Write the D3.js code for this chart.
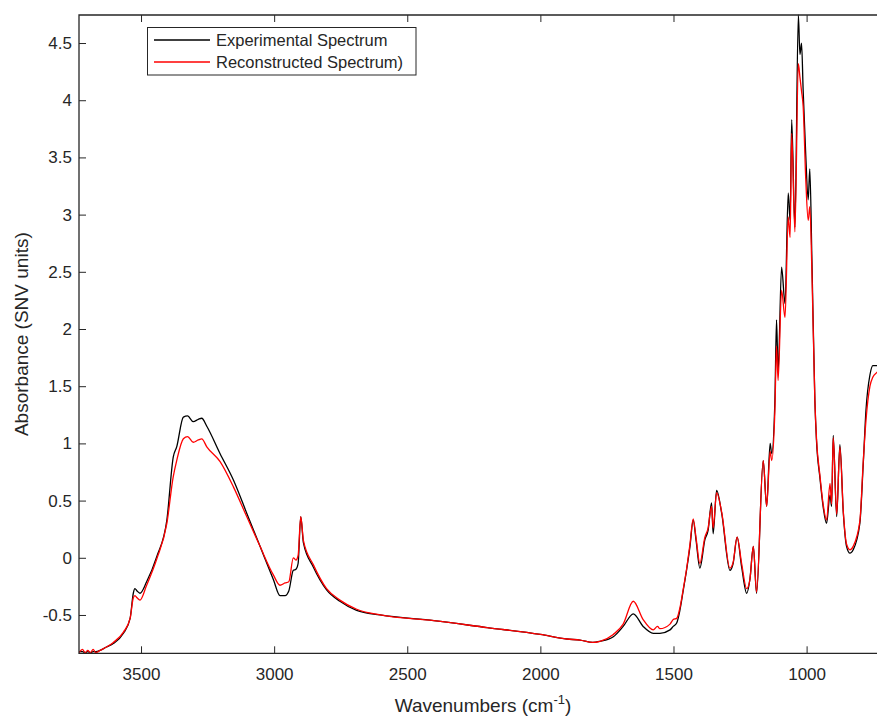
<!DOCTYPE html>
<html>
<head>
<meta charset="utf-8">
<script src="https://d3js.org/d3.v7.min.js"></script>
<style>
    body { margin: 0; background: #fff; }
    text { font-family: "Liberation Sans", Arial, Helvetica, sans-serif; fill: #262626; }
</style>
</head>
<body>
<svg id="main-svg" width="877" height="718"></svg>
<script>
// wavenumbers (cm-1)
var wavenumbers = [3733, 3720, 3710, 3700, 3690, 3680, 3670, 3654, 3630, 3604, 3566, 3541, 3529, 3523, 3515, 3504,
    3479, 3441, 3403, 3379, 3366, 3341, 3325, 3304, 3285, 3272, 3253, 3203, 3153, 3103, 3053, 3003,
    2978, 2959, 2945, 2928, 2918, 2910, 2900, 2890, 2853, 2803, 2753, 2690, 2602, 2400, 2200, 2000,
    1900, 1851, 1803, 1776, 1726, 1689, 1651, 1614, 1576, 1560, 1551, 1513, 1501, 1488, 1476, 1463,
    1451, 1438, 1426, 1415, 1401, 1382, 1370, 1357, 1351, 1338, 1319, 1288, 1276, 1261, 1244, 1225,
    1213, 1200, 1188, 1163, 1150, 1137, 1131, 1119, 1113, 1107, 1094, 1081, 1069, 1062, 1056, 1044,
    1031, 1025, 1019, 1013, 1003, 994, 988, 980, 969, 963, 950, 938, 925, 912, 906, 900,
    887, 875, 862, 850, 837, 825, 800, 787, 777, 762, 751, 736, 715, 700];

var experimental = [-0.82, -0.82, -0.83, -0.82, -0.83, -0.82, -0.82, -0.81, -0.78, -0.75, -0.66, -0.53, -0.31, -0.27, -0.29, -0.31,
    -0.21, 0.01, 0.33, 0.88, 0.97, 1.23, 1.24, 1.19, 1.21, 1.22, 1.15, 0.91, 0.68, 0.39, 0.10, -0.19,
    -0.33, -0.33, -0.29, -0.11, -0.10, -0.05, 0.36, 0.13, -0.08, -0.28, -0.38, -0.46, -0.50, -0.55, -0.61, -0.67,
    -0.71, -0.72, -0.74, -0.73, -0.69, -0.60, -0.49, -0.60, -0.66, -0.66, -0.66, -0.63, -0.60, -0.57, -0.46, -0.28,
    -0.11, 0.10, 0.33, 0.15, -0.09, 0.16, 0.24, 0.48, 0.21, 0.59, 0.39, -0.11, -0.05, 0.18, -0.08, -0.31,
    -0.19, 0.10, -0.31, 0.85, 0.45, 1.00, 0.91, 1.38, 2.08, 1.62, 2.54, 2.22, 3.19, 2.95, 3.83, 2.89,
    4.745, 4.40, 4.50, 4.09, 3.51, 3.13, 3.40, 2.60, 1.38, 1.03, 0.70, 0.45, 0.30, 0.55, 0.45, 1.07,
    0.36, 0.99, 0.39, 0.10, 0.04, 0.07, 0.30, 0.83, 1.29, 1.60, 1.68, 1.68, 1.70, 1.70];

var reconstructed = [-0.83, -0.80, -0.83, -0.81, -0.83, -0.80, -0.83, -0.81, -0.78, -0.74, -0.65, -0.53, -0.35, -0.33, -0.35, -0.37,
    -0.24, -0.01, 0.30, 0.71, 0.85, 1.04, 1.06, 1.01, 1.03, 1.04, 0.97, 0.84, 0.62, 0.36, 0.10, -0.15,
    -0.24, -0.22, -0.21, 0.00, -0.02, 0.02, 0.36, 0.15, -0.06, -0.27, -0.37, -0.45, -0.50, -0.55, -0.61, -0.67,
    -0.71, -0.72, -0.74, -0.73, -0.67, -0.58, -0.38, -0.54, -0.63, -0.60, -0.62, -0.58, -0.54, -0.53, -0.44, -0.27,
    -0.10, 0.12, 0.34, 0.17, -0.05, 0.18, 0.26, 0.45, 0.26, 0.57, 0.40, -0.09, -0.04, 0.18, -0.05, -0.27,
    -0.19, 0.10, -0.30, 0.85, 0.45, 0.93, 0.85, 1.30, 1.85, 1.55, 2.34, 2.10, 2.98, 2.80, 3.71, 2.85,
    4.32, 4.20, 4.08, 3.95, 3.30, 2.95, 3.07, 2.50, 1.38, 1.05, 0.72, 0.47, 0.33, 0.65, 0.47, 1.05,
    0.38, 0.97, 0.40, 0.12, 0.07, 0.10, 0.32, 0.85, 1.20, 1.50, 1.58, 1.62, 1.66, 1.68];

var xTicks = [3500, 3000, 2500, 2000, 1500, 1000];
var yTicks = [-0.5, 0, 0.5, 1, 1.5, 2, 2.5, 3, 3.5, 4, 4.5];
var seriesNames = ["Experimental Spectrum", "Reconstructed Spectrum)"];
var seriesColors = ["#000000", "#ff0000"];

function init_chart() {
    var svg = d3.select("#main-svg");

    // axes box, right side runs past the window like the cropped picture
    var pl = 79, pr = 887, pt = 15, pb = 653.3;
    var x = d3.scaleLinear().domain([3733, 698]).range([pl, pr]);
    var y = d3.scaleLinear().domain([-0.835, 4.745]).range([pb, pt]);

    svg.append("clipPath").attr("id", "plot-clip")
        .append("rect").attr("x", pl).attr("y", pt - 2)
        .attr("width", pr - pl).attr("height", pb - pt + 2);

    var line = d3.line()
        .curve(d3.curveMonotoneX)
        .x(function (d) { return x(d[0]); })
        .y(function (d) { return y(d[1]); });

    var curves = svg.append("g").attr("clip-path", "url(#plot-clip)");
    [experimental, reconstructed].forEach(function (vals, i) {
        curves.append("path")
            .datum(wavenumbers.map(function (w, j) { return [w, vals[j]]; }))
            .attr("d", line)
            .attr("fill", "none")
            .attr("stroke", seriesColors[i])
            .attr("stroke-width", 1.3)
            .attr("stroke-linejoin", "round");
    });

    function styleAxis(g) {
        g.selectAll("path").remove();
        g.selectAll("line").attr("stroke", "#262626").attr("stroke-width", 1);
        g.selectAll("text").style("font-size", "17px").attr("fill", "#262626");
    }

    svg.append("g").attr("transform", "translate(0," + pb + ")")
        .call(d3.axisBottom(x).tickValues(xTicks).tickSizeInner(-7).tickSizeOuter(0).tickPadding(15)
            .tickFormat(function (d) { return String(d); }))
        .call(styleAxis);
    svg.append("g").attr("transform", "translate(0," + pt + ")")
        .call(d3.axisTop(x).tickValues(xTicks).tickSizeInner(-7).tickSizeOuter(0).tickFormat(""))
        .call(styleAxis);
    svg.append("g").attr("transform", "translate(" + pl + ",0)")
        .call(d3.axisLeft(y).tickValues(yTicks).tickSizeInner(-7).tickSizeOuter(0).tickPadding(7)
            .tickFormat(function (d) { return String(d); }))
        .call(styleAxis);

    // box lines
    svg.append("path")
        .attr("d", "M" + pr + "," + pt + "H" + pl + "V" + pb + "H" + pr)
        .attr("fill", "none").attr("stroke", "#262626").attr("stroke-width", 1.3);

    // axis labels
    svg.append("text")
        .attr("transform", "translate(28," + ((pt + pb) / 2) + ") rotate(-90)")
        .attr("text-anchor", "middle")
        .style("font-size", "19px")
        .text("Absorbance (SNV units)");

    var xl = svg.append("text")
        .attr("x", (pl + pr) / 2).attr("y", 712)
        .attr("text-anchor", "middle")
        .style("font-size", "19px");
    xl.append("tspan").text("Wavenumbers (cm");
    xl.append("tspan").attr("dy", -8).style("font-size", "13px").text("-1");
    xl.append("tspan").attr("dy", 8).text(")");

    // legend
    var legend = svg.append("g");
    legend.append("rect")
        .attr("x", 147.5).attr("y", 27.5).attr("width", 268.5).attr("height", 47.5)
        .attr("fill", "#fff").attr("stroke", "#262626").attr("stroke-width", 1);
    seriesNames.forEach(function (name, i) {
        var ly = 40 + i * 22;
        legend.append("line")
            .attr("x1", 154).attr("x2", 210).attr("y1", ly).attr("y2", ly)
            .attr("stroke", seriesColors[i]).attr("stroke-width", 1.3);
        legend.append("text")
            .attr("x", 216).attr("y", ly).attr("dy", "0.35em")
            .style("font-size", "16.5px")
            .text(name);
    });
}
init_chart();
</script>
</body>
</html>
